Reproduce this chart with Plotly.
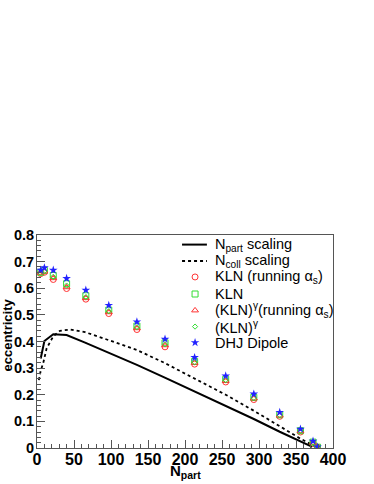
import plotly.graph_objects as go

# centrality bins (Npart) of the model points
npart = [5, 10, 22, 40, 66, 97, 135, 173, 213, 255, 293, 328, 356, 373, 379]

kln_run = [0.655, 0.66, 0.633, 0.599, 0.559, 0.505, 0.445, 0.38, 0.315, 0.248, 0.182, 0.119, 0.06, 0.018, 0.002]
kln = [0.66, 0.667, 0.648, 0.617, 0.572, 0.518, 0.458, 0.395, 0.325, 0.258, 0.19, 0.125, 0.065, 0.022, 0.003]
kln_g_run = [0.658, 0.663, 0.638, 0.604, 0.563, 0.51, 0.45, 0.386, 0.32, 0.252, 0.186, 0.122, 0.063, 0.02, 0.003]
kln_g = [0.657, 0.664, 0.643, 0.61, 0.567, 0.514, 0.454, 0.39, 0.322, 0.255, 0.188, 0.123, 0.064, 0.021, 0.003]
dhj = [0.668, 0.677, 0.668, 0.637, 0.593, 0.536, 0.474, 0.409, 0.34, 0.271, 0.203, 0.134, 0.071, 0.026, 0.004]

# Glauber curves
npart_x = [5, 10, 22, 40, 65, 97, 135, 172, 213, 255, 293, 328, 356, 372]
npart_y = [0.336, 0.402, 0.427, 0.424, 0.396, 0.358, 0.312, 0.265, 0.213, 0.16, 0.109, 0.061, 0.025, 0.004]
ncoll_x = [2.5, 5, 8.5, 13, 22, 31, 45, 65, 97, 135, 172, 213, 255, 293, 328, 356, 378]
ncoll_y = [0.255, 0.29, 0.32, 0.374, 0.42, 0.44, 0.445, 0.435, 0.405, 0.368, 0.32, 0.262, 0.2, 0.14, 0.08, 0.035, 0.003]

labels = ['N<sub>part</sub> scaling', 'N<sub>coll</sub> scaling', 'KLN (running α<sub>s</sub>)', 'KLN',
          '(KLN)<sup>γ</sup>(running α<sub>s</sub>)', '(KLN)<sup>γ</sup>', 'DHJ Dipole']

RED = '#ff3333'
GREEN = '#33dd33'
BLUE = '#2222ff'
styles = [
    dict(mode='lines', line=dict(color='black', width=2)),
    dict(mode='lines', line=dict(color='black', width=1.8, dash='dot')),
    dict(mode='markers', marker=dict(symbol='circle-open', size=6, color=RED, line=dict(width=1))),
    dict(mode='markers', marker=dict(symbol='square-open', size=6, color=GREEN, line=dict(width=1))),
    dict(mode='markers', marker=dict(symbol='triangle-up-open', size=6, color=RED, line=dict(width=1))),
    dict(mode='markers', marker=dict(symbol='diamond-open', size=4, color=GREEN, line=dict(width=1))),
    dict(mode='markers', marker=dict(symbol='star', size=6.5, color=BLUE)),
]
series = [(npart_x, npart_y), (ncoll_x, ncoll_y), (npart, kln_run), (npart, kln),
          (npart, kln_g_run), (npart, kln_g), (npart, dhj)]

fig = go.Figure()
for (xs, ys), lab, st in zip(series, labels, styles):
    fig.add_trace(go.Scatter(x=xs, y=ys, name=lab, showlegend=False, **st))

# hand-made legend box (ROOT style, tight rows) on an overlay axis in plot-fraction units
leg_rows = [0.955, 0.878, 0.803, 0.723, 0.646, 0.570, 0.495]
for row, lab, st in zip(leg_rows, labels, styles):
    if st['mode'] == 'lines':
        fig.add_trace(go.Scatter(x=[0.49, 0.574], y=[row, row], xaxis='x2', yaxis='y2',
                                 showlegend=False, hoverinfo='skip', **st))
    else:
        fig.add_trace(go.Scatter(x=[0.534], y=[row], xaxis='x2', yaxis='y2',
                                 showlegend=False, hoverinfo='skip', **st))
    fig.add_annotation(x=0.595, y=row, xref='paper', yref='paper', text=lab, showarrow=False,
                       xanchor='left', yanchor='middle', font=dict(size=14.5, color='black'))

fig.add_annotation(x=0.5, y=-0.108, xref='paper', yref='paper', text='N<sub>part</sub>', showarrow=False,
                   xanchor='center', yanchor='middle', font=dict(size=15, weight='bold'))
fig.add_annotation(x=-0.1, y=0.53, xref='paper', yref='paper', text='eccentricity', showarrow=False,
                   textangle=-90, xanchor='center', yanchor='middle', font=dict(size=13, weight='bold'))

axis_common = dict(showgrid=False, zeroline=False, showline=True, linecolor='#555', linewidth=1,
                   mirror=True, automargin=False, ticks='inside', ticklen=8, tickcolor='#555')

fig.update_layout(
    width=374, height=484,
    margin=dict(l=37, r=41, t=235, b=36),
    paper_bgcolor='white', plot_bgcolor='white',
    font=dict(family='Liberation Sans, Arial, sans-serif', color='black'),
    showlegend=False,
    xaxis=dict(range=[0, 400], dtick=50, tick0=0, ticklabelstandoff=-3,
               minor=dict(dtick=10, ticks='inside', ticklen=4, tickcolor='#555'),
               tickfont=dict(size=16, weight='bold'), **axis_common),
    yaxis=dict(range=[0, 0.8], dtick=0.1, tick0=0, ticklabelstandoff=-1,
               minor=dict(dtick=0.02, ticks='inside', ticklen=4, tickcolor='#555'),
               tickfont=dict(size=14.5, weight='bold'), **axis_common),
    xaxis2=dict(overlaying='x', anchor='y2', range=[0, 1], visible=False, fixedrange=True),
    yaxis2=dict(overlaying='y', anchor='x2', range=[0, 1], visible=False, fixedrange=True),
)

# drop the browser's default 8px body margin so the figure sits at the window corner
fig.write_html("out.html", config=dict(displayModeBar=False),
               post_script="document.body.style.margin = '0';")
